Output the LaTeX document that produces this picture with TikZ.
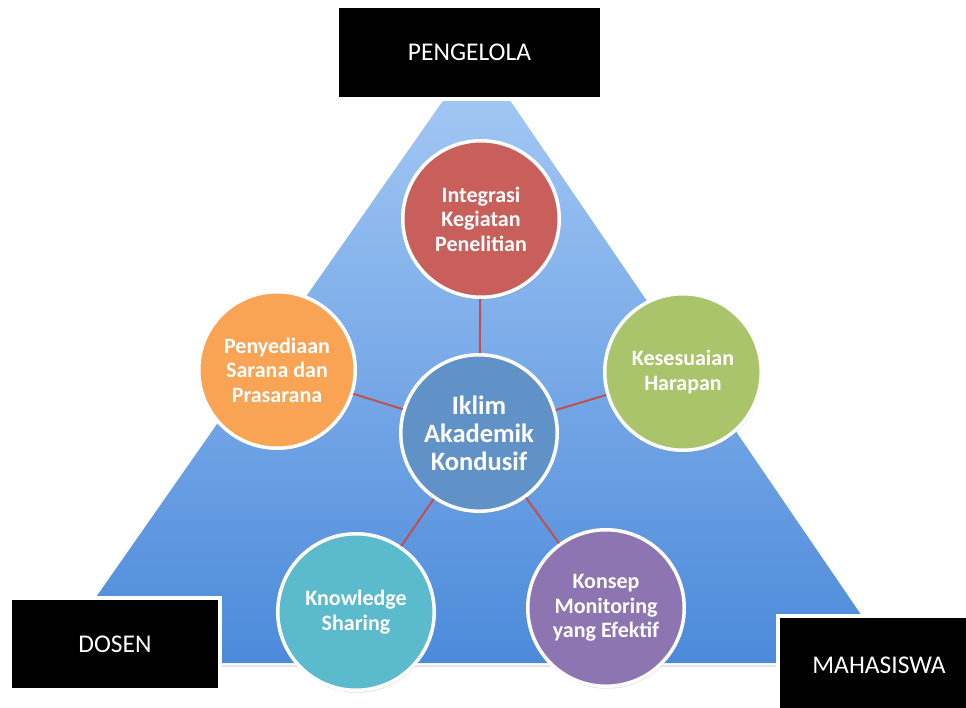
\documentclass[tikz,border=0pt]{standalone}
\usepackage{fontspec}
\setmainfont{Carlito}
\usetikzlibrary{shadows}
\definecolor{triTop}{RGB}{168,203,246}
\definecolor{triBot}{RGB}{76,138,218}
\definecolor{cRed}{RGB}{201,95,91}
\definecolor{cGreen}{RGB}{169,196,107}
\definecolor{cOrange}{RGB}{249,163,84}
\definecolor{cCyan}{RGB}{91,186,204}
\definecolor{cPurple}{RGB}{141,117,178}
\definecolor{cBlue}{RGB}{96,146,200}
\definecolor{link}{RGB}{192,80,77}
\tikzset{
  circnode/.style={circle, draw=white, line width=3.5pt, minimum size=156.5pt, inner sep=0pt,
    fill=#1, text=white, align=center, font=\bfseries\fontsize{22}{24.5}\selectfont,
    drop shadow={opacity=0.22, shadow xshift=0.8pt, shadow yshift=-2.5pt}},
  labelbox/.style={rectangle, fill=black, draw=white, line width=4pt, text=white,
    font=\fontsize{25.5}{28}\selectfont, inner sep=0pt,
    drop shadow={opacity=0.3, shadow xshift=1.5pt, shadow yshift=-2pt}},
  connector/.style={draw=link, line width=2pt}
}
\begin{document}
\begin{tikzpicture}[x=1pt,y=-1pt]
\clip (0,0) rectangle (966,707);
\fill[white] (0,0) rectangle (966,707);
% triangle
\coordinate (apex) at (477,52);
\coordinate (bl) at (50,663);
\coordinate (br) at (894,663);
\fill[gray!40, opacity=0.5] (50,665) -- (894,665) -- (895,667) -- (49,667) -- cycle;
\shade[top color=triTop, bottom color=triBot] (apex) -- (bl) -- (br) -- cycle;
% circles
\node[circnode=cRed] (red) at (481,219) {Integrasi\\Kegiatan\\Penelitian};
\node[circnode=cGreen] (green) at (683,372) {Kesesuaian\\Harapan};
\node[circnode=cOrange] (orange) at (277,370) {Penyediaan\\Sarana dan\\Prasarana};
\node[circnode=cCyan] (cyan) at (356,612) {Knowledge\\Sharing};
\node[circnode=cPurple] (purple) at (606,608) {Konsep\\Monitoring\\yang Efektif};
\node[circnode=cBlue, font=\bfseries\fontsize{26.5}{28}\selectfont] (center) at (479,433) {Iklim\\Akademik\\Kondusif};
% connectors
\draw[connector] (center) -- (red);
\draw[connector] (center) -- (green);
\draw[connector] (center) -- (orange);
\draw[connector] (center) -- (cyan);
\draw[connector] (center) -- (purple);
% label boxes
\node[labelbox, minimum width=265pt, minimum height=93pt] (peng) at (469.5,52.5) {PENGELOLA};
\node[labelbox, minimum width=210pt, minimum height=92pt] (dosen) at (115,644) {DOSEN};
\node[labelbox, minimum width=202pt, minimum height=98pt] (mhs) at (879,665) {MAHASISWA};
\end{tikzpicture}
\end{document}
